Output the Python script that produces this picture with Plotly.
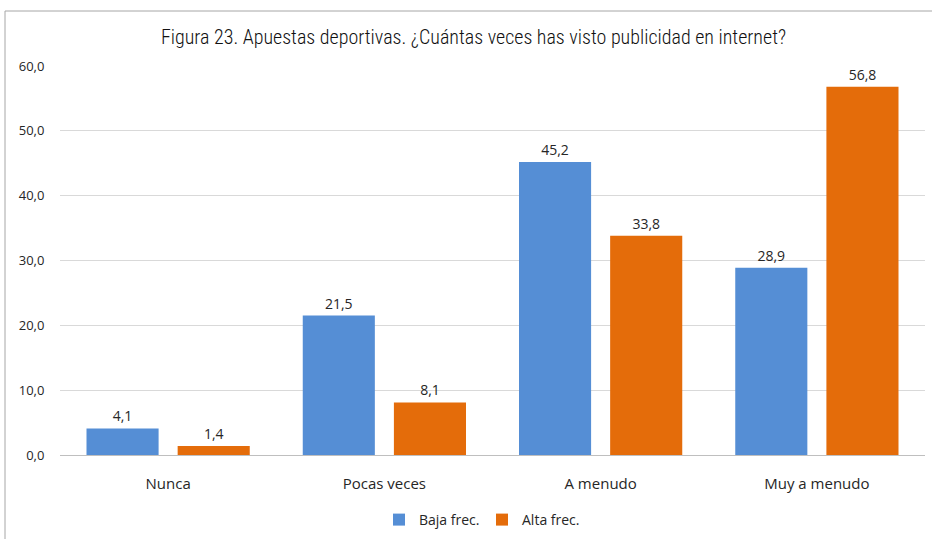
import plotly.graph_objects as go

categories = ["Nunca", "Pocas veces", "A menudo", "Muy a menudo"]
baja = [4.1, 21.5, 45.2, 28.9]
alta = [1.4, 8.1, 33.8, 56.8]
series_names = ["Baja frec.", "Alta frec."]
colors = ["#558ED5", "#E46C0A"]
y_ticks = [0, 10, 20, 30, 40, 50, 60]

W, H = 932, 539
ml, mr, mt, mb = 60, 7, 66, 84
pw, ph = W - ml - mr, H - mt - mb

def fmt(v):
    return f"{v:.1f}".replace(".", ",")

fig = go.Figure()
for name, vals, col in zip(series_names, [baja, alta], colors):
    fig.add_trace(go.Bar(
        x=categories, y=vals, name=name, marker=dict(color=col, line=dict(width=0)),
        text=[fmt(v) for v in vals], textposition="outside",
        textfont=dict(size=14, color="#262626", family="Open Sans, sans-serif"),
        cliponaxis=False,
    ))

# outer chart frame
fig.add_shape(type="rect", xref="paper", yref="paper",
              x0=(5 - ml) / pw, x1=(W + 10 - ml) / pw,
              y0=-(H + 10 - (H - mb)) / ph, y1=((H - mb) - 11) / ph,
              line=dict(color="#A6A6A6", width=1), fillcolor="rgba(0,0,0,0)", layer="below")

fig.update_layout(
    width=W, height=H,
    margin=dict(l=ml, r=mr, t=mt, b=mb, autoexpand=False),
    paper_bgcolor="white", plot_bgcolor="white",
    separators=",.",
    barmode="group", bargap=0.157, bargroupgap=0.209,
    title=dict(text="Figura 23. Apuestas deportivas. ¿Cuántas veces has visto publicidad en internet?",
               x=(152 + 795) / 2 / W, xanchor="center", y=1 - 37 / H, yanchor="middle",
               font=dict(size=20, color="#111111", weight=300,
                         family="Liberation Sans Narrow, Roboto Condensed, Open Sans, sans-serif")),
    showlegend=True,
    legend=dict(orientation="h", x=482 / W, xref="container", xanchor="center",
                y=1 - 520 / H, yref="container", yanchor="middle",
                font=dict(size=14, color="#262626", family="Open Sans, sans-serif"),
                itemwidth=30, entrywidth=58, entrywidthmode="pixels", traceorder="normal"),
    xaxis=dict(showgrid=False, showline=False, ticks="outside", ticklen=15,
               tickcolor="rgba(0,0,0,0)",
               tickfont=dict(size=15, color="#262626", family="Open Sans, sans-serif")),
    yaxis=dict(range=[0, 60], tickvals=y_ticks, tickformat=".1f",
               showgrid=True, gridcolor="#D9D9D9", gridwidth=1,
               zeroline=True, zerolinecolor="#BFBFBF", zerolinewidth=1,
               showline=False, ticks="outside", ticklen=12, tickcolor="rgba(0,0,0,0)",
               tickfont=dict(size=13, color="#262626", family="Open Sans, sans-serif")),
    font=dict(family="Open Sans, sans-serif"),
)

fig.write_html("out.html")
